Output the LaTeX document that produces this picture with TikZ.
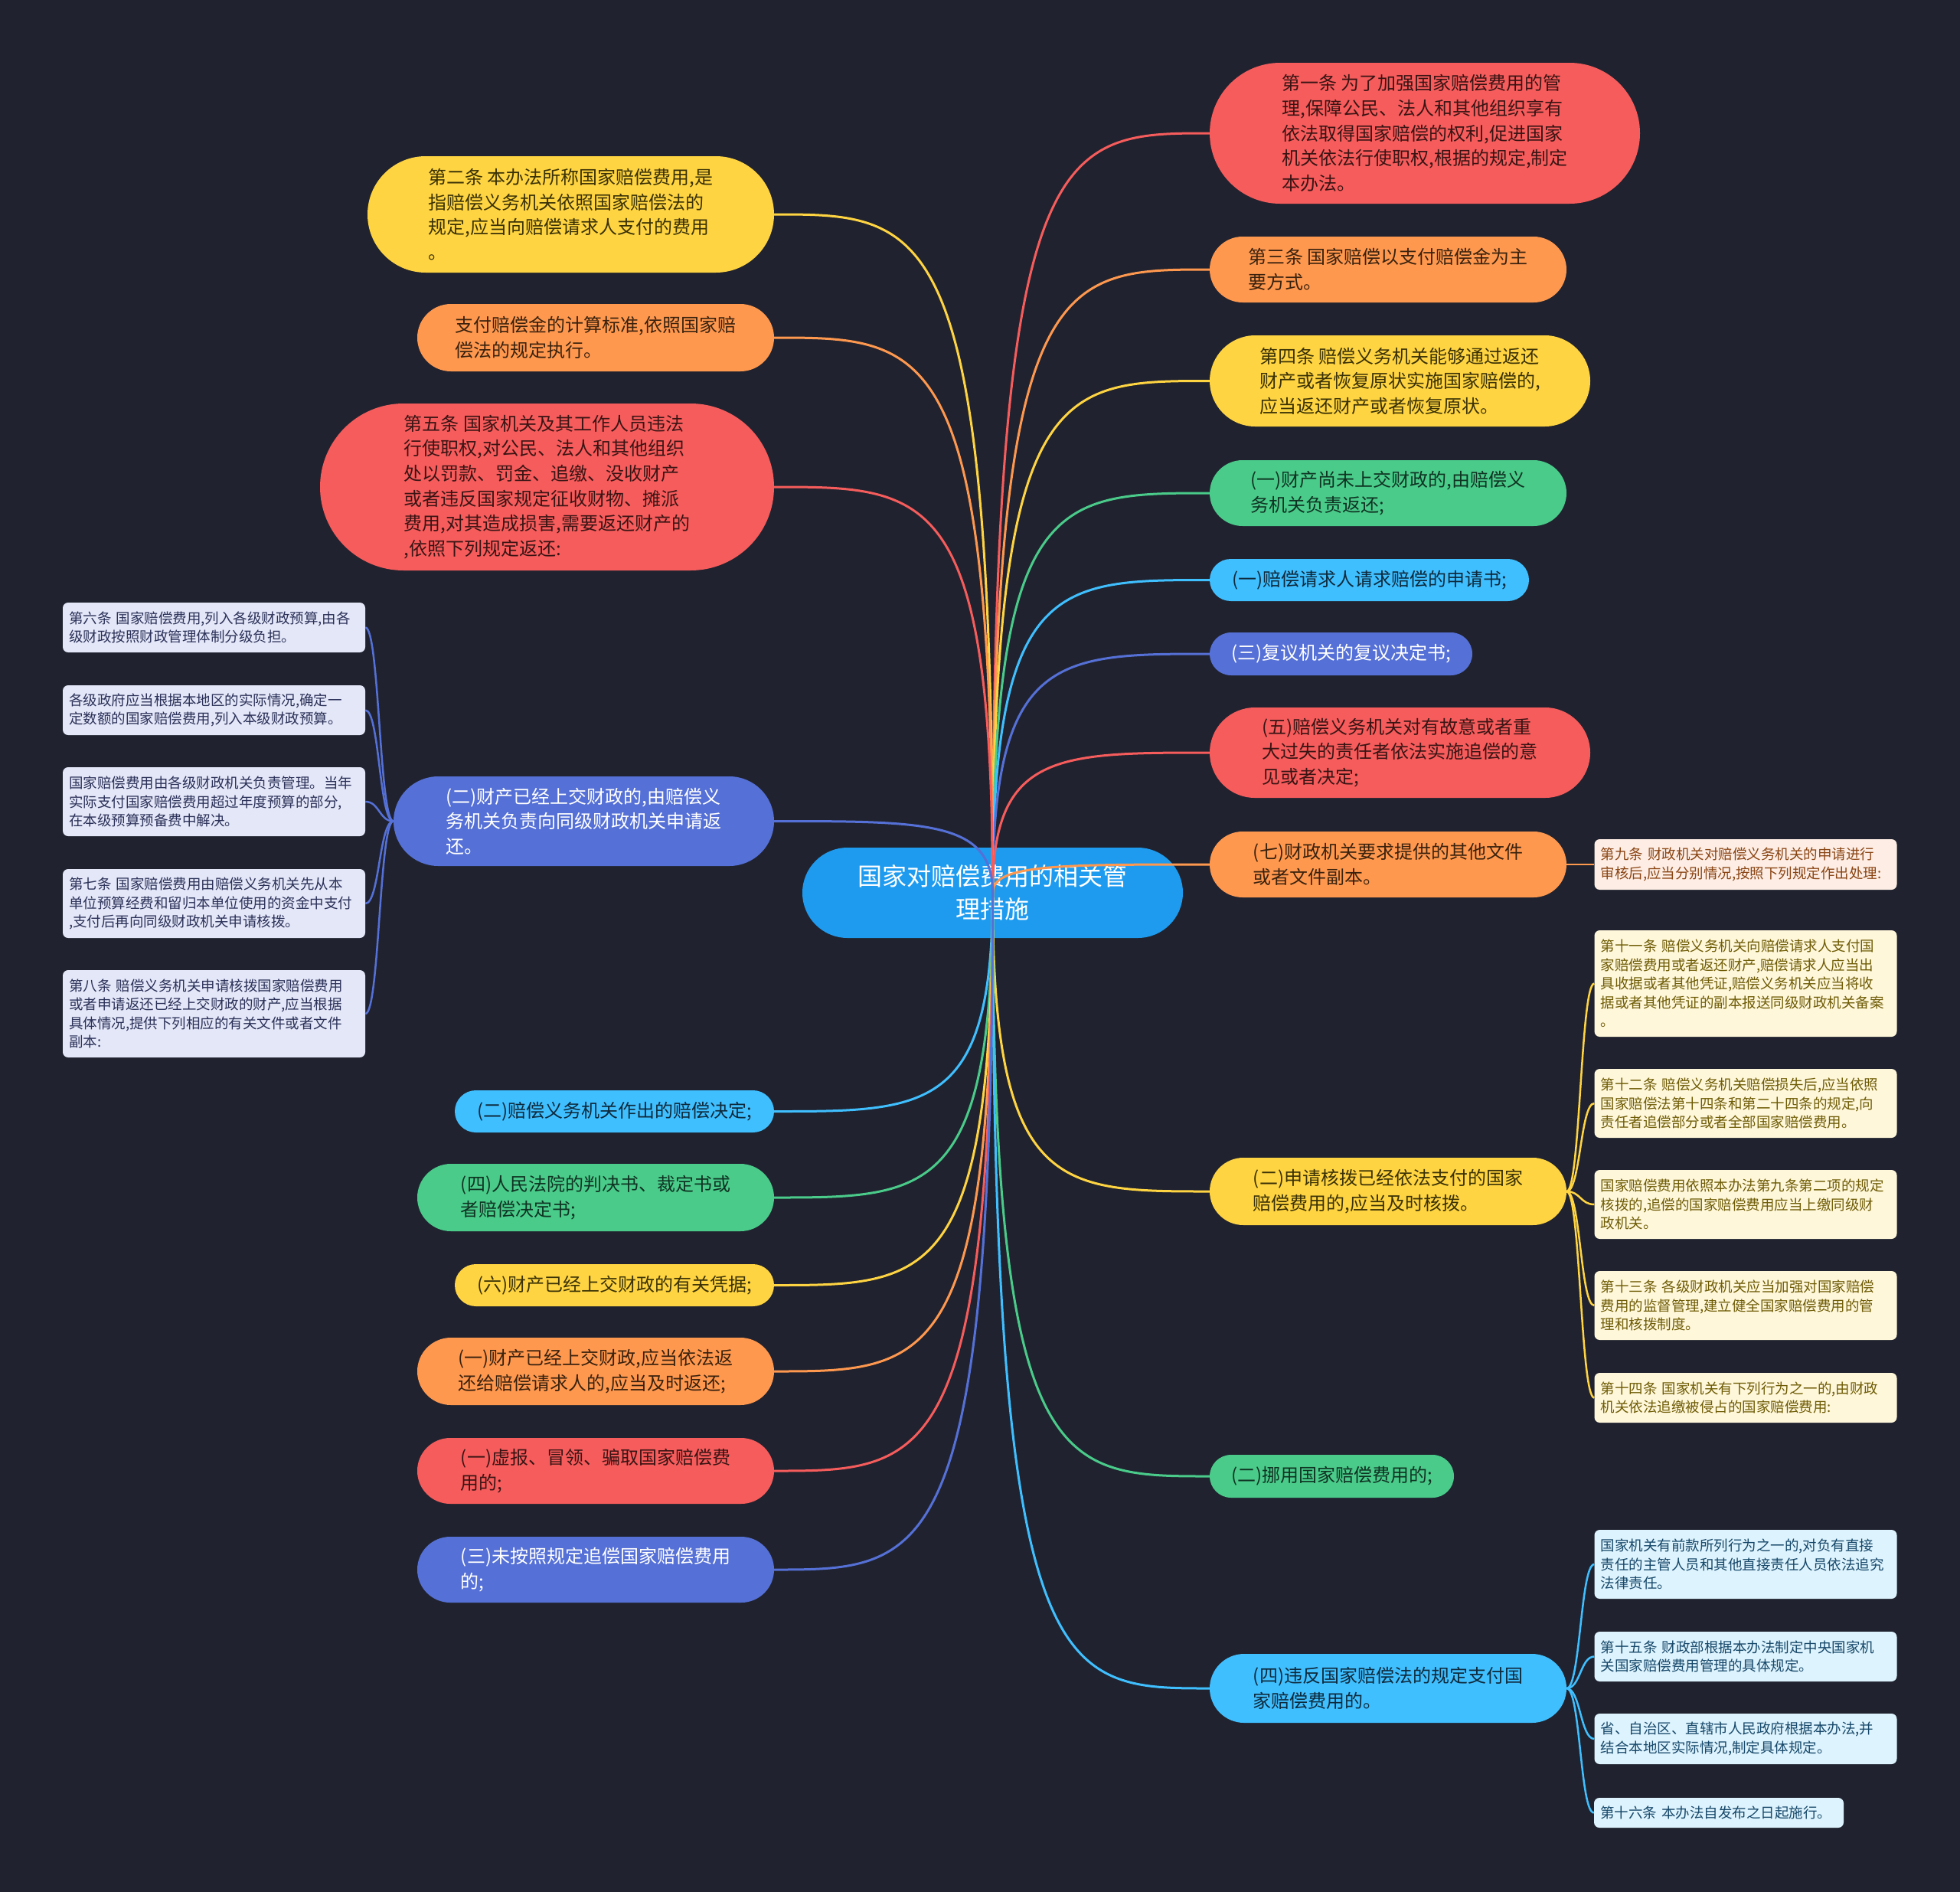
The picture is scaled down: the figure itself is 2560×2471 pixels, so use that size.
\documentclass[tikz,border=0pt]{standalone}
\usepackage{fontspec}
\setmainfont{Noto Sans CJK SC}
\usetikzlibrary{calc}
\definecolor{bg}{HTML}{20232F}
\definecolor{cred}{HTML}{F65C5C}
\definecolor{corange}{HTML}{FF984F}
\definecolor{cyellow}{HTML}{FFD442}
\definecolor{cgreen}{HTML}{4ACB8A}
\definecolor{cblue}{HTML}{40BFFF}
\definecolor{cindigo}{HTML}{5570D6}
\definecolor{croot}{HTML}{1E9BEF}
\definecolor{tred}{HTML}{3A1414}
\definecolor{torange}{HTML}{3A220E}
\definecolor{tyellow}{HTML}{3A3206}
\definecolor{tgreen}{HTML}{0F3322}
\definecolor{tblue}{HTML}{0E2A3C}
\definecolor{findigo}{HTML}{E4E7F8}
\definecolor{tlindigo}{HTML}{2B3158}
\definecolor{forange}{HTML}{FDEDE4}
\definecolor{tlorange}{HTML}{8A4514}
\definecolor{fyellow}{HTML}{FFF7DA}
\definecolor{tlyellow}{HTML}{6E5C06}
\definecolor{fblue}{HTML}{DDF3FD}
\definecolor{tlblue}{HTML}{17486A}
\tikzset{
  pill/.style 2 args={inner sep=0pt, align=left, font=\fontsize{24}{32.6}\selectfont,
    minimum width=#1, minimum height=#2, rounded corners={#2*0.5pt}},
  pred/.style={fill=cred, text=tred},
  porange/.style={fill=corange, text=torange},
  pyellow/.style={fill=cyellow, text=tyellow},
  pgreen/.style={fill=cgreen, text=tgreen},
  pblue/.style={fill=cblue, text=tblue},
  pindigo/.style={fill=cindigo, text=white},
  leaf/.style 2 args={inner xsep=8pt, inner ysep=0pt, rounded corners=7pt, align=left,
    font=\fontsize{18.5}{24.5}\selectfont, text width=#1, minimum height=#2},
  lindigo/.style={fill=findigo, text=tlindigo},
  lorange/.style={fill=forange, text=tlorange},
  lyellow/.style={fill=fyellow, text=tlyellow},
  lblue/.style={fill=fblue, text=tlblue},
  conn/.style={line width=3pt},
  conn2/.style={line width=2.5pt},
}
\begin{document}
\begin{tikzpicture}[x=1pt,y=-1pt]
\fill[bg] (0,0) rectangle (2560,2471);
\useasboundingbox (0,0) rectangle (2560,2471);

% root
\node[inner sep=0pt, fill=croot, text=white, align=center, font=\fontsize{32}{43}\selectfont,
  minimum width=497, minimum height=118, rounded corners=59pt] (root) at (1296.5,1166)
  {国家对赔偿费用的相关管\\理措施};

% right level 1
\node[pill={562}{184}, pred] (R1) at (1861,174) {第一条 为了加强国家赔偿费用的管\\理,保障公民、法人和其他组织享有\\依法取得国家赔偿的权利,促进国家\\机关依法行使职权,根据的规定,制定\\本办法。};
\node[pill={466}{86}, porange] (R2) at (1813,352) {第三条 国家赔偿以支付赔偿金为主\\要方式。};
\node[pill={497}{119}, pyellow] (R3) at (1828.5,497.5) {第四条 赔偿义务机关能够通过返还\\财产或者恢复原状实施国家赔偿的,\\应当返还财产或者恢复原状。};
\node[pill={466}{86}, pgreen] (R4) at (1813,644) {(一)财产尚未上交财政的,由赔偿义\\务机关负责返还;};
\node[pill={417}{55}, pblue] (R5) at (1788.5,757.5) {(一)赔偿请求人请求赔偿的申请书;};
\node[pill={343}{56}, pindigo] (R6) at (1751.5,854) {(三)复议机关的复议决定书;};
\node[pill={497}{118}, pred] (R7) at (1828.5,983) {(五)赔偿义务机关对有故意或者重\\大过失的责任者依法实施追偿的意\\见或者决定;};
\node[pill={466}{86}, porange] (R8) at (1813,1129) {(七)财政机关要求提供的其他文件\\或者文件副本。};
\node[pill={466}{88}, pyellow] (R9) at (1813,1556) {(二)申请核拨已经依法支付的国家\\赔偿费用的,应当及时核拨。};
\node[pill={319}{56}, pgreen] (R10) at (1739.5,1928) {(二)挪用国家赔偿费用的;};
\node[pill={466}{90}, pblue] (R11) at (1813,2205) {(四)违反国家赔偿法的规定支付国\\家赔偿费用的。};

% left level 1
\node[pill={531}{152}, pyellow] (L1) at (745.5,280) {第二条 本办法所称国家赔偿费用,是\\指赔偿义务机关依照国家赔偿法的\\规定,应当向赔偿请求人支付的费用\\。};
\node[pill={466}{88}, porange] (L2) at (778,441) {支付赔偿金的计算标准,依照国家赔\\偿法的规定执行。};
\node[pill={593}{218}, pred] (L3) at (714.5,636) {第五条 国家机关及其工作人员违法\\行使职权,对公民、法人和其他组织\\处以罚款、罚金、追缴、没收财产\\或者违反国家规定征收财物、摊派\\费用,对其造成损害,需要返还财产的\\,依照下列规定返还:};
\node[pill={497}{117}, pindigo] (L4) at (762.5,1072.5) {(二)财产已经上交财政的,由赔偿义\\务机关负责向同级财政机关申请返\\还。};
\node[pill={417}{55}, pblue] (L5) at (802.5,1451.5) {(二)赔偿义务机关作出的赔偿决定;};
\node[pill={466}{88}, pgreen] (L6) at (778,1564) {(四)人民法院的判决书、裁定书或\\者赔偿决定书;};
\node[pill={417}{55}, pyellow] (L7) at (802.5,1678.5) {(六)财产已经上交财政的有关凭据;};
\node[pill={466}{88}, porange] (L8) at (778,1791) {(一)财产已经上交财政,应当依法返\\还给赔偿请求人的,应当及时返还;};
\node[pill={466}{86}, pred] (L9) at (778,1921) {(一)虚报、冒领、骗取国家赔偿费\\用的;};
\node[pill={466}{86}, pindigo] (L10) at (778,2050) {(三)未按照规定追偿国家赔偿费用\\的;};

% left level 2
\node[leaf={379pt}{65}, lindigo] (La) at (279.5,819.5) {第六条 国家赔偿费用,列入各级财政预算,由各\\级财政按照财政管理体制分级负担。};
\node[leaf={379pt}{65}, lindigo] (Lb) at (279.5,927.5) {各级政府应当根据本地区的实际情况,确定一\\定数额的国家赔偿费用,列入本级财政预算。};
\node[leaf={379pt}{90}, lindigo] (Lc) at (279.5,1047) {国家赔偿费用由各级财政机关负责管理。当年\\实际支付国家赔偿费用超过年度预算的部分,\\在本级预算预备费中解决。};
\node[leaf={379pt}{90}, lindigo] (Ld) at (279.5,1180) {第七条 国家赔偿费用由赔偿义务机关先从本\\单位预算经费和留归本单位使用的资金中支付\\,支付后再向同级财政机关申请核拨。};
\node[leaf={379pt}{114}, lindigo] (Le) at (279.5,1324) {第八条 赔偿义务机关申请核拨国家赔偿费用\\或者申请返还已经上交财政的财产,应当根据\\具体情况,提供下列相应的有关文件或者文件\\副本:};

% right level 2
\node[leaf={379pt}{66}, lorange] (N9) at (2280,1129) {第九条 财政机关对赔偿义务机关的申请进行\\审核后,应当分别情况,按照下列规定作出处理:};
\node[leaf={379pt}{139}, lyellow] (Y1) at (2280,1284.5) {第十一条 赔偿义务机关向赔偿请求人支付国\\家赔偿费用或者返还财产,赔偿请求人应当出\\具收据或者其他凭证,赔偿义务机关应当将收\\据或者其他凭证的副本报送同级财政机关备案\\。};
\node[leaf={379pt}{90}, lyellow] (Y2) at (2280,1441) {第十二条 赔偿义务机关赔偿损失后,应当依照\\国家赔偿法第十四条和第二十四条的规定,向\\责任者追偿部分或者全部国家赔偿费用。};
\node[leaf={379pt}{90}, lyellow] (Y3) at (2280,1573) {国家赔偿费用依照本办法第九条第二项的规定\\核拨的,追偿的国家赔偿费用应当上缴同级财\\政机关。};
\node[leaf={379pt}{90}, lyellow] (Y4) at (2280,1705) {第十三条 各级财政机关应当加强对国家赔偿\\费用的监督管理,建立健全国家赔偿费用的管\\理和核拨制度。};
\node[leaf={379pt}{65}, lyellow] (Y5) at (2280,1825.5) {第十四条 国家机关有下列行为之一的,由财政\\机关依法追缴被侵占的国家赔偿费用:};
\node[leaf={379pt}{90}, lblue] (B1) at (2280,2043) {国家机关有前款所列行为之一的,对负有直接\\责任的主管人员和其他直接责任人员依法追究\\法律责任。};
\node[leaf={379pt}{65}, lblue] (B2) at (2280,2163.5) {第十五条 财政部根据本办法制定中央国家机\\关国家赔偿费用管理的具体规定。};
\node[leaf={379pt}{66}, lblue] (B3) at (2280,2271) {省、自治区、直辖市人民政府根据本办法,并\\结合本地区实际情况,制定具体规定。};
\node[leaf={310pt}{39}, lblue] (B4) at (2245,2367.5) {第十六条 本办法自发布之日起施行。};

% connectors from root
\foreach \n/\c in {R1/cred,R2/corange,R3/cyellow,R4/cgreen,R5/cblue,R6/cindigo,R7/cred,R8/corange,R9/cyellow,R10/cgreen,R11/cblue}
  \draw[conn,\c] (root.center) .. controls (root.center |- \n.west) and ($(root.center |- \n.west)!0.3!(\n.west)$) .. (\n.west);
\foreach \n/\c in {L1/cyellow,L2/corange,L3/cred,L4/cindigo,L5/cblue,L6/cgreen,L7/cyellow,L8/corange,L9/cred,L10/cindigo}
  \draw[conn,\c] (root.center) .. controls (root.center |- \n.east) and ($(root.center |- \n.east)!0.3!(\n.east)$) .. (\n.east);

% level 2 connectors
\foreach \n in {La,Lb,Lc,Ld,Le}
  \draw[conn2,cindigo] (L4.west) .. controls +(-18.5,0) and +(18.5,0) .. (\n.east);
\foreach \n in {Y1,Y2,Y3,Y4,Y5}
  \draw[conn2,cyellow] (R9.east) .. controls +(18,0) and +(-18,0) .. (\n.west);
\foreach \n in {B1,B2,B3,B4}
  \draw[conn2,cblue] (R11.east) .. controls +(18,0) and +(-18,0) .. (\n.west);
\draw[conn2,corange] (R8.east) -- (N9.west);
\end{tikzpicture}
\end{document}
